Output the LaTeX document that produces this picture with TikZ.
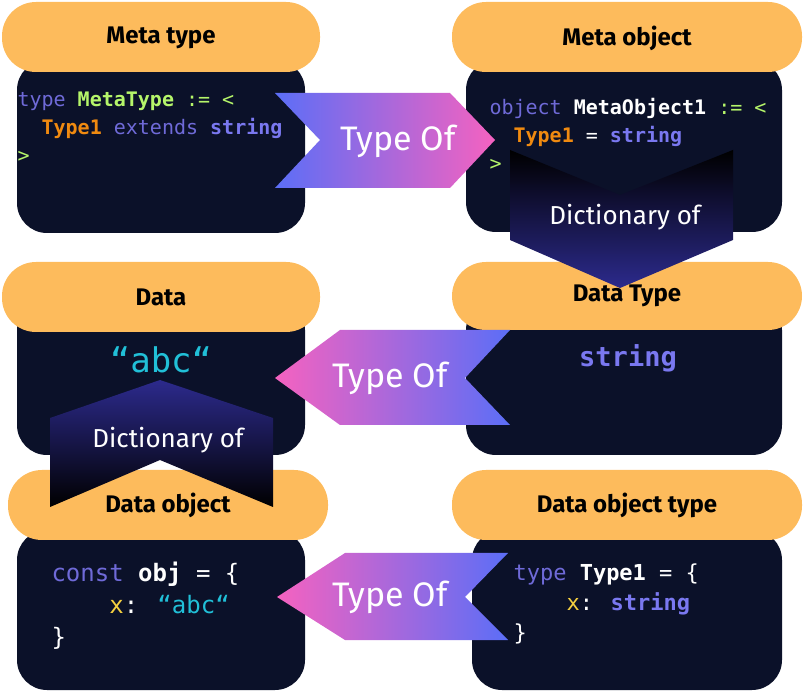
\documentclass[tikz,border=0pt]{standalone}
\usepackage{fontspec}
\setmainfont{Fira Sans}
\newfontfamily\codefont{DejaVu Sans Mono}
\usetikzlibrary{shadings}
\definecolor{dark}{HTML}{0B1129}
\definecolor{orng}{HTML}{FDBB5C}
\definecolor{kw}{HTML}{6F6AD8}
\definecolor{grn}{HTML}{B5F56A}
\definecolor{otx}{HTML}{F08A10}
\definecolor{strc}{HTML}{7A78F0}
\definecolor{cyn}{HTML}{21C0D8}
\definecolor{ylw}{HTML}{F5D040}
\definecolor{gblue}{HTML}{5B6EF7}
\definecolor{gpink}{HTML}{F562C0}
\definecolor{indg}{HTML}{2C2A8C}
\tikzset{
 body/.style={fill=dark,rounded corners=30pt},
 head/.style={fill=orng,rounded corners=34pt},
 htext/.style={font=\bfseries\fontsize{24}{28}\selectfont,text=black},
 code/.style={font=\codefont\fontsize{20}{28}\selectfont,text=white,anchor=north west,align=left},
 tlabel/.style={font=\fontsize{34}{40}\selectfont,text=white},
 dlabel/.style={font=\fontsize{26}{30}\selectfont,text=white},
}
\begin{document}
\begin{tikzpicture}[x=1pt,y=-1pt]
\useasboundingbox (0,0) rectangle (804,700);
% boxes
\fill[body] (17,60) rectangle (305,233);
\fill[head] (2,2) rectangle (320,72);
\node[htext] (h1) at (161,38) {Meta type};
\fill[body] (466,60) rectangle (782,232);
\fill[head] (452,2) rectangle (802,72);
\node[htext] (h2) at (627,38) {Meta object};
\fill[body] (17,300) rectangle (305,455);
\fill[head] (2,262) rectangle (320,332);
\node[htext] (h3) at (161,297) {Data};
\fill[body] (466,300) rectangle (782,455);
\fill[head] (452,262) rectangle (802,330);
\fill[body] (17,530) rectangle (305,690);
\fill[head] (8,470) rectangle (328,540);
\fill[body] (472,530) rectangle (782,690);
\fill[head] (452,470) rectangle (802,540);
\node[htext] (h6) at (627,505) {Data object type};
% code
\node[code] (c1) at (14,88) {\textcolor{kw}{type} \textcolor{grn}{\bfseries MetaType} \textcolor{grn}{:= <}\\
\ \ \textcolor{otx}{\bfseries Type1} \textcolor{kw}{extends} \textcolor{strc}{\bfseries string}\\
\textcolor{grn}{>}};
\node[code] (c2) at (486,95) {\textcolor{kw}{object} {\bfseries MetaObject1} \textcolor{grn}{:= <}\\
\ \ \textcolor{otx}{\bfseries Type1} = \textcolor{strc}{\bfseries string}\\
\textcolor{grn}{>}};
\node[font=\codefont\bfseries\fontsize{27}{30}\selectfont,text=strc] (c4) at (628,358) {string};
\node[font=\codefont\fontsize{34}{36}\selectfont,text=cyn] (c3) at (161,360) {“abc“};
\node[code,font=\codefont\fontsize{24}{32}\selectfont] (c5) at (48,558) {\textcolor{kw}{const} {\bfseries obj} = \{\\
\ \ \ \ \textcolor{ylw}{x}: \textcolor{cyn}{“abc“}\\
\}};
\node[code,font=\codefont\fontsize{22}{30}\selectfont] (c6) at (510,560) {\textcolor{kw}{type} {\bfseries Type1} = \{\\
\ \ \ \ \textcolor{ylw}{x}: \textcolor{strc}{\bfseries string}\\
\}};
% Type Of arrows
\shade[left color=gblue,right color=gpink] (275,93) -- (450,93) -- (495,140) -- (450,188) -- (275,188) -- (320,140) -- cycle;
\node[tlabel] (t1) at (398,141) {Type Of};
\shade[left color=gpink,right color=gblue] (510,330) -- (340,330) -- (275,378) -- (340,425) -- (510,425) -- (465,378) -- cycle;
\node[tlabel] (t2) at (390,378) {Type Of};
\shade[left color=gpink,right color=gblue] (508,553) -- (345,553) -- (277,597) -- (345,640) -- (508,640) -- (465,597) -- cycle;
\node[tlabel] (t3) at (390,597) {Type Of};
% Dictionary of shapes
\shade[top color=black,bottom color=indg] (510,150) -- (620,195) -- (733,150) -- (733,240) -- (620,288) -- (510,240) -- cycle;
\node[dlabel] (d1) at (625,217) {Dictionary of};
\shade[top color=indg,bottom color=black] (50,418) -- (160,380) -- (273,418) -- (273,507) -- (160,460) -- (50,507) -- cycle;
\node[dlabel] (d2) at (168,440) {Dictionary of};
\node[htext] (h4) at (627,296) {Data Type};
\node[htext] (h5) at (168,505) {Data object};
\end{tikzpicture}
\end{document}
